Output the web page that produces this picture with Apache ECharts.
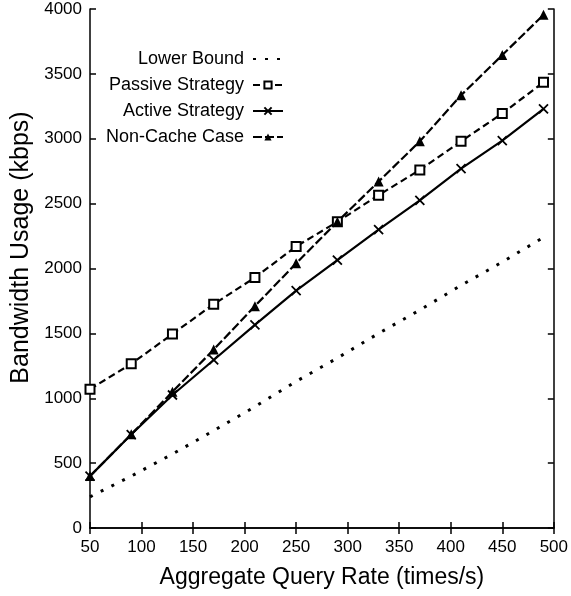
<!DOCTYPE html>
<html>
<head>
<meta charset="utf-8">
<script src="https://cdn.jsdelivr.net/npm/echarts@6/dist/echarts.min.js"></script>
<style>
  html, body { margin: 0; padding: 0; background: #fff; }
  #chart { width: 571px; height: 596px; }
</style>
</head>
<body>
<div id="chart"></div>
<script>
// query rate (times/s)
var rates = [50, 90, 130, 170, 210, 250, 290, 330, 370, 410, 450, 490];
// bandwidth usage (kbps)
var lowerBound = [240, 400, 570, 750, 935, 1130, 1310, 1500, 1680, 1870, 2050, 2240];
var passive = [1070, 1265, 1495, 1725, 1930, 2170, 2360, 2565, 2760, 2980, 3195, 3435];
var active = [400, 720, 1025, 1295, 1565, 1830, 2065, 2300, 2525, 2770, 2985, 3230];
var nonCache = [400, 722, 1050, 1375, 1710, 2040, 2360, 2670, 2980, 3335, 3645, 3955];

var font = "'Liberation Sans', Arial, Helvetica, sans-serif";

function pairs(ys) {
  return rates.map(function (x, i) { return [x, ys[i]]; });
}

var chart = echarts.init(document.getElementById("chart"));

function legendAt(item, top) {
  return {
    data: [item],
    right: 287,
    top: top,
    align: "right",
    itemWidth: 30,
    itemHeight: 9,
    padding: 0,
    selectedMode: false,
    textStyle: { fontFamily: font, fontSize: 18, color: "#000", padding: [0, 4, 0, 0] }
  };
}

var axisLine = { show: true, lineStyle: { color: "#000", width: 1.5 } };
var ticksIn = { show: true, inside: true, length: 6, lineStyle: { color: "#000", width: 1.5 } };
var plain = function (v) { return String(v); };

chart.setOption({
  animation: false,
  grid: { left: 90, right: 16, top: 9, bottom: 68 },
  legend: [
    legendAt({ name: "Lower Bound", itemStyle: { opacity: 0 } }, 50),
    legendAt("Passive Strategy", 76),
    legendAt("Active Strategy", 102),
    legendAt("Non-Cache Case", 128)
  ],
  xAxis: [
    {
      type: "value",
      min: 50,
      max: 500,
      interval: 50,
      name: "Aggregate Query Rate (times/s)",
      nameLocation: "middle",
      nameGap: 38,
      nameTextStyle: { fontFamily: font, fontSize: 23, color: "#000" },
      axisLine: axisLine,
      axisTick: ticksIn,
      splitLine: { show: false },
      axisLabel: { fontFamily: font, fontSize: 17, color: "#000", margin: 11, formatter: plain }
    },
    {
      type: "value",
      position: "top",
      min: 50,
      max: 500,
      interval: 50,
      axisLine: axisLine,
      axisTick: ticksIn,
      splitLine: { show: false },
      axisLabel: { show: false }
    }
  ],
  yAxis: [
    {
      type: "value",
      min: 0,
      max: 4000,
      interval: 500,
      name: "Bandwidth Usage (kbps)",
      nameLocation: "middle",
      nameGap: 56,
      nameTextStyle: { fontFamily: font, fontSize: 25, color: "#000", padding: [0, 0, 0, 42] },
      axisLine: axisLine,
      axisTick: ticksIn,
      splitLine: { show: false },
      axisLabel: { fontFamily: font, fontSize: 17, color: "#000", margin: 8, formatter: plain }
    },
    {
      type: "value",
      position: "right",
      min: 0,
      max: 4000,
      interval: 500,
      axisLine: axisLine,
      axisTick: ticksIn,
      splitLine: { show: false },
      axisLabel: { show: false }
    }
  ],
  series: [
    {
      name: "Lower Bound",
      type: "line",
      data: pairs(lowerBound),
      showSymbol: false,
      symbol: "none",
      lineStyle: { color: "#000", width: 3, type: [3, 9] },
      itemStyle: { color: "#000" }
    },
    {
      name: "Passive Strategy",
      type: "line",
      data: pairs(passive),
      symbol: "rect",
      symbolSize: 9,
      lineStyle: { color: "#000", width: 2.2, type: [7, 4] },
      itemStyle: { color: "#fff", borderColor: "#000", borderWidth: 2 }
    },
    {
      name: "Active Strategy",
      type: "line",
      data: pairs(active),
      symbol: "path://M0 0L10 10M10 0L0 10",
      symbolSize: 9,
      lineStyle: { color: "#000", width: 2.2 },
      itemStyle: { color: "rgba(0,0,0,0)", borderColor: "#000", borderWidth: 1.8 }
    },
    {
      name: "Non-Cache Case",
      type: "line",
      data: pairs(nonCache),
      symbol: "triangle",
      symbolSize: 10,
      lineStyle: { color: "#000", width: 2.2, type: [9, 3] },
      itemStyle: { color: "#000" }
    }
  ]
});
</script>
</body>
</html>
